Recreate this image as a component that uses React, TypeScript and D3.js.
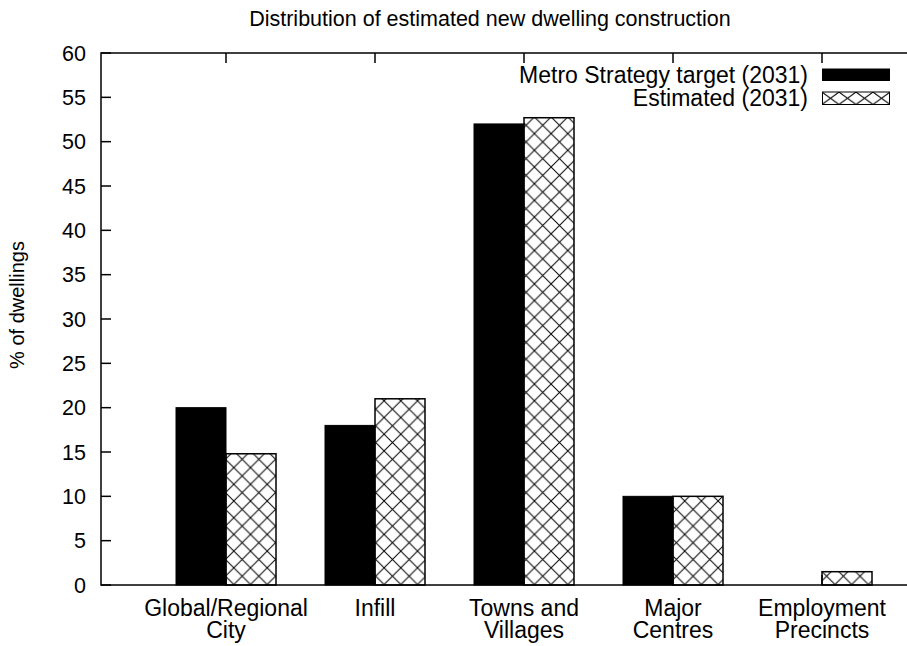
import React from "react";
import * as d3 from "d3";

const categories: string[][] = [
  ["Global/Regional", "City"],
  ["Infill"],
  ["Towns and", "Villages"],
  ["Major", "Centres"],
  ["Employment", "Precincts"],
];
const targetValues = [20, 18, 52, 10, 0];
const estimatedValues = [14.8, 21, 52.7, 10, 1.5];
const yTicks = [0, 5, 10, 15, 20, 25, 30, 35, 40, 45, 50, 55, 60];
const seriesNames = ["Metro Strategy target (2031)", "Estimated (2031)"];
const title = "Distribution of estimated new dwelling construction";
const yLabel = "% of dwellings";

const W = 907;
const H = 646;
const left = 101;
const top = 53;
const bottom = 585;
const right = 971;

export default function App() {
  const y = d3.scaleLinear().domain([0, 60]).range([bottom, top]);
  const x = d3
    .scalePoint<number>()
    .domain(categories.map((_, i) => i))
    .range([226, 822]);
  const barW = 50;
  const font = "'Liberation Sans', Arial, sans-serif";

  return (
    <svg width={W} height={H} style={{ position: "absolute", left: 0, top: 0, background: "#fff" }} fontFamily={font}>
      <defs>
        <pattern id="hatch" patternUnits="userSpaceOnUse" width={16.7} height={16.7}>
          <path d="M0,0 L16.7,16.7 M16.7,0 L0,16.7" stroke="#000" strokeWidth={1} fill="none" />
        </pattern>
        <pattern id="hatchLegend" patternUnits="userSpaceOnUse" x={822} y={92} width={17} height={12.5}>
          <path d="M0,0 L17,12.5 M17,0 L0,12.5" stroke="#000" strokeWidth={1} fill="none" />
        </pattern>
      </defs>
      <rect width={W} height={H} fill="#fff" />
      <text x={490} y={26} textAnchor="middle" fontSize={21.5}>{title}</text>

      {/* y ticks */}
      {yTicks.map((t) => (
        <g key={t}>
          <line x1={left} x2={left + 10} y1={y(t)} y2={y(t)} stroke="#000" strokeWidth={1.5} />
          <line x1={right} x2={right - 10} y1={y(t)} y2={y(t)} stroke="#000" strokeWidth={1.5} />
          <text x={86} y={y(t)} dy="0.36em" textAnchor="end" fontSize={21.5}>{t}</text>
        </g>
      ))}
      {/* x ticks top/bottom */}
      {categories.map((_, i) => (
        <g key={i}>
          <line x1={x(i)!} x2={x(i)!} y1={top} y2={top + 10} stroke="#000" strokeWidth={1.5} />
          <line x1={x(i)!} x2={x(i)!} y1={bottom} y2={bottom - 10} stroke="#000" strokeWidth={1.5} />
        </g>
      ))}

      {/* bars */}
      {targetValues.map((v, i) =>
        v > 0 ? (
          <rect key={"t" + i} x={x(i)! - barW} y={y(v)} width={barW} height={y(0) - y(v)} fill="#000" stroke="#000" strokeWidth={1} />
        ) : null
      )}
      {estimatedValues.map((v, i) => (
        <rect key={"e" + i} x={x(i)!} y={y(v)} width={barW} height={y(0) - y(v)} fill="url(#hatch)" stroke="#000" strokeWidth={1.5} />
      ))}

      {/* frame */}
      <rect x={left} y={top} width={right - left} height={bottom - top} fill="none" stroke="#000" strokeWidth={1.5} />

      {/* category labels */}
      {categories.map((lines, i) => (
        <text key={i} x={x(i)!} y={616} textAnchor="middle" fontSize={23}>
          {lines.map((l, j) => (
            <tspan key={j} x={x(i)!} dy={j === 0 ? 0 : 22}>{l}</tspan>
          ))}
        </text>
      ))}

      {/* y label */}
      <text transform={`translate(24,305) rotate(-90)`} textAnchor="middle" fontSize={20}>{yLabel}</text>

      {/* legend */}
      <text x={808} y={83} textAnchor="end" fontSize={23}>{seriesNames[0]}</text>
      <rect x={822.5} y={69} width={67} height={11.5} fill="#000" stroke="#000" strokeWidth={1} />
      <text x={808} y={106} textAnchor="end" fontSize={23}>{seriesNames[1]}</text>
      <rect x={822.5} y={92} width={67} height={12.5} fill="url(#hatchLegend)" stroke="#000" strokeWidth={1} />
    </svg>
  );
}
